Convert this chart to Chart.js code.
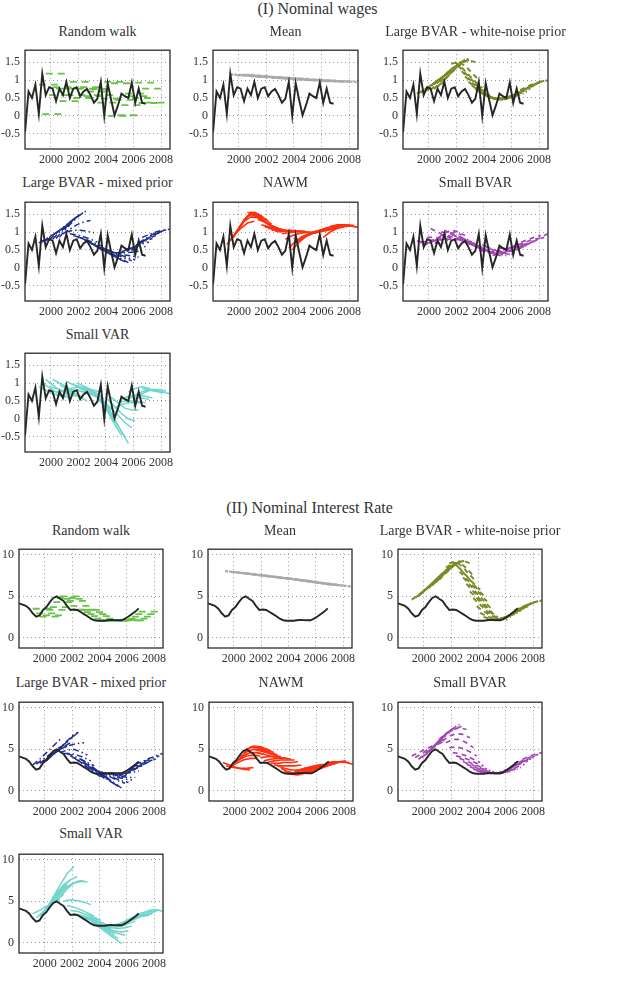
<!DOCTYPE html>
<html>
<head>
<meta charset="utf-8">
<script src="https://cdn.jsdelivr.net/npm/chart.js@4.4.0/dist/chart.umd.min.js"></script>
<style>
  body { margin:0; background:#fff; width:619px; height:994px; position:relative; font-family:"Liberation Serif", "DejaVu Serif", serif; color:#333; }
  .hd { position:absolute; left:0; width:619px; text-align:center; font-size:16px; line-height:18px; }
  .tt { position:absolute; text-align:center; font-size:14px; line-height:16px; white-space:nowrap; }
  canvas { position:absolute; }
</style>
</head>
<body>
<div class="hd" style="top:0;padding-left:8px">(I) Nominal wages</div>
<div class="hd" style="top:499px">(II) Nominal Interest Rate</div>
<script>
// quarterly dates and realised series
const quarters = [1998.125,1998.375,1998.625,1998.875,1999.125,1999.375,1999.625,1999.875,
  2000.125,2000.375,2000.625,2000.875,2001.125,2001.375,2001.625,2001.875,
  2002.125,2002.375,2002.625,2002.875,2003.125,2003.375,2003.625,2003.875,
  2004.125,2004.375,2004.625,2004.875,2005.125,2005.375,2005.625,2005.875,
  2006.125,2006.375,2006.625,2006.875];
const wageActual = [-0.45,0.68,0.5,0.87,0.05,1.18,0.58,0.8,0.76,0.41,0.76,0.58,0.95,0.5,0.76,0.8,
  0.55,0.68,0.75,0.58,0.37,0.48,0.95,0.0,0.91,0.45,0.02,0.3,0.62,0.55,0.5,0.93,0.36,0.76,0.37,0.34];
const rateActual = [4.15,4.0,3.85,3.5,2.95,2.55,2.7,3.35,3.7,4.3,4.8,5.0,4.7,4.45,3.85,3.35,
  3.4,3.35,3.1,2.85,2.6,2.3,2.1,2.05,2.05,2.05,2.1,2.15,2.12,2.1,2.1,2.3,2.55,2.85,3.15,3.55];

const yearTicks = [2000,2002,2004,2006,2008];
const wageTicks = [-0.5,0,0.5,1,1.5];
const rateTicks = [0,5,10];

const titles = ['Random walk','Mean','Large BVAR - white-noise prior','Large BVAR - mixed prior','NAWM','Small BVAR','Small VAR'];

// forecast paths: [start, values...]
const rwWages = [[1999.125,0.87],[1999.375,0.05],[1999.625,1.18],[1999.875,0.58],[2000.125,0.8],[2000.375,0.76],
  [2000.625,0.41],[2000.875,0.76],[2001.125,0.58],[2001.375,0.95],[2001.625,0.5],[2001.875,0.76],[2002.125,0.8],
  [2002.375,0.55],[2002.625,0.68],[2002.875,0.75],[2003.125,0.58],[2003.375,0.37],[2003.625,0.48],[2003.875,0.95],
  [2004.125,0.0],[2004.375,0.91],[2004.625,0.45],[2004.875,0.02],[2005.125,0.3],[2005.375,0.62],[2005.625,0.55],
  [2005.875,0.5],[2006.125,0.93],[2006.375,0.36],[2006.625,0.76],[2006.875,0.37]];
const meanWages = [[1999.375,1.15,1.14],[1999.875,1.13,1.12],[2000.375,1.12,1.11],[2000.875,1.1,1.09],[2001.375,1.09,1.08],
  [2001.875,1.08,1.07],[2002.375,1.06,1.05],[2002.875,1.05,1.04],[2003.375,1.04,1.03],[2003.875,1.02,1.01],
  [2004.375,1.01,1.0],[2004.875,1.0,0.99],[2005.375,0.99,0.98],[2005.875,0.98,0.97],[2006.375,0.97,0.96],[2006.875,0.96,0.95]];
const lbvarWnWages = [
  [1999.125,0.62,0.72,0.85,0.98,1.1],[1999.375,0.65,0.78,0.92,1.06,1.2],[1999.625,0.68,0.83,0.98,1.14,1.3],
  [1999.875,0.7,0.88,1.05,1.22,1.38],[2000.125,0.72,0.92,1.12,1.3,1.45],[2000.375,0.75,0.97,1.18,1.37,1.52],
  [2000.625,0.8,1.02,1.24,1.43,1.57],[2000.875,0.88,1.1,1.3,1.48,1.6],[2001.125,1.0,1.2,1.38,1.52,1.6],
  [2001.375,1.2,1.35,1.48,1.55,1.5],[2001.625,1.45,1.5,1.4,1.2,1.0],[2001.875,1.5,1.35,1.15,0.95,0.78],
  [2002.125,1.4,1.2,1.0,0.82,0.68],[2002.375,1.25,1.05,0.88,0.72,0.6],[2002.625,1.1,0.92,0.77,0.63,0.52],
  [2002.875,0.95,0.8,0.67,0.55,0.47],[2003.125,0.85,0.7,0.58,0.5,0.45],[2003.375,0.75,0.63,0.53,0.47,0.45],
  [2003.625,0.68,0.58,0.5,0.46,0.46],[2003.875,0.62,0.53,0.48,0.47,0.5],[2004.125,0.58,0.5,0.47,0.48,0.52],
  [2004.375,0.52,0.48,0.48,0.51,0.55],[2004.625,0.48,0.48,0.5,0.54,0.58],[2004.875,0.47,0.49,0.53,0.58,0.62],
  [2005.125,0.48,0.52,0.57,0.63,0.68],[2005.375,0.5,0.55,0.62,0.69,0.76],[2005.625,0.5,0.58,0.67,0.76,0.84],
  [2005.875,0.52,0.62,0.72,0.82,0.9],[2006.125,0.55,0.66,0.77,0.87,0.94],[2006.375,0.6,0.72,0.83,0.92,0.98],
  [2006.625,0.72,0.82,0.9,0.96,0.99]];
const lbvarMixWages = [
  [1999.125,0.7,0.8,0.92,1.03,1.12],[1999.375,0.72,0.85,0.98,1.1,1.2],[1999.625,0.75,0.9,1.05,1.2,1.32],
  [1999.875,0.78,0.95,1.12,1.28,1.4],[2000.125,0.8,1.0,1.18,1.35,1.48],[2000.375,0.82,1.05,1.25,1.42,1.55],
  [2000.625,0.85,1.1,1.3,1.48,1.6],[2000.875,0.95,1.08,1.2,1.28,1.32],[2001.125,1.0,1.05,1.05,1.02,0.98],
  [2001.375,0.95,0.92,0.87,0.8,0.72],[2001.625,0.9,0.85,0.78,0.7,0.62],[2001.875,0.88,0.8,0.7,0.6,0.52],
  [2002.125,0.85,0.75,0.65,0.55,0.45],[2002.375,0.8,0.7,0.58,0.48,0.38],[2002.625,0.75,0.65,0.52,0.42,0.32],
  [2002.875,0.7,0.6,0.48,0.37,0.27],[2003.125,0.65,0.55,0.43,0.32,0.22],[2003.375,0.62,0.5,0.38,0.27,0.17],
  [2003.625,0.6,0.48,0.36,0.25,0.15],[2003.875,0.55,0.45,0.35,0.27,0.2],[2004.125,0.5,0.42,0.35,0.28,0.22],
  [2004.375,0.45,0.4,0.36,0.33,0.3],[2004.625,0.42,0.42,0.43,0.45,0.48],[2004.875,0.4,0.45,0.5,0.55,0.6],
  [2005.125,0.45,0.52,0.6,0.67,0.72],[2005.375,0.48,0.58,0.67,0.75,0.82],[2005.625,0.5,0.62,0.73,0.83,0.9],
  [2005.875,0.52,0.66,0.79,0.9,0.98],[2006.125,0.55,0.7,0.84,0.95,1.03],[2006.375,0.7,0.82,0.93,1.01,1.06],
  [2006.625,0.85,0.93,1.0,1.05,1.08]];
const nawmWages = [
  [1999.125,0.65,0.9,1.1,1.25,1.3],[1999.375,0.75,1.05,1.3,1.42,1.4],[1999.625,0.85,1.2,1.45,1.5,1.4],
  [1999.875,1.0,1.35,1.5,1.45,1.3],[2000.125,1.15,1.45,1.55,1.45,1.3],[2000.375,1.3,1.55,1.5,1.35,1.22],
  [2000.625,1.55,1.48,1.35,1.22,1.12],[2000.875,1.5,1.4,1.28,1.17,1.1],[2001.125,1.45,1.35,1.22,1.12,1.07],
  [2001.375,1.35,1.28,1.18,1.1,1.05],[2001.625,1.2,1.15,1.1,1.05,1.03],[2001.875,1.15,1.1,1.07,1.05,1.04],
  [2002.125,1.1,1.08,1.05,1.04,1.04],[2002.375,1.05,1.05,1.04,1.03,1.03],[2002.625,1.02,1.03,1.03,1.03,1.03],
  [2002.875,1.0,1.02,1.02,1.02,1.02],[2003.125,0.95,0.98,1.0,1.0,1.0],[2003.375,0.8,0.9,0.96,0.99,1.0],
  [2003.625,0.55,0.75,0.88,0.95,0.98],[2003.875,0.5,0.72,0.88,0.96,1.0],[2004.125,0.7,0.85,0.95,1.0,1.02],
  [2004.375,0.75,0.88,0.97,1.02,1.04],[2004.625,0.85,0.95,1.0,1.04,1.06],[2004.875,0.9,0.98,1.03,1.06,1.08],
  [2005.125,0.95,1.02,1.06,1.09,1.1],[2005.375,1.0,1.05,1.09,1.12,1.13],[2005.625,1.0,1.08,1.12,1.15,1.15],
  [2005.875,1.05,1.12,1.16,1.18,1.18],[2006.125,0.85,1.0,1.1,1.15,1.17],[2006.375,1.05,1.15,1.2,1.2,1.18],
  [2006.625,1.15,1.2,1.2,1.17,1.13]];
const sbvarWages = [
  [1999.125,0.75,0.72,0.7,0.7,0.7],[1999.375,0.7,0.75,0.78,0.78,0.76],[1999.625,0.62,0.72,0.78,0.8,0.8],
  [1999.875,0.85,0.85,0.83,0.8,0.78],[2000.125,1.1,1.0,0.9,0.83,0.78],[2000.375,0.75,0.88,0.97,0.98,0.92],
  [2000.625,0.82,0.97,1.05,1.0,0.9],[2000.875,1.0,0.98,0.92,0.85,0.78],[2001.125,1.05,0.95,0.85,0.78,0.72],
  [2001.375,0.9,0.85,0.8,0.74,0.68],[2001.625,0.95,0.85,0.75,0.68,0.6],[2001.875,0.82,0.77,0.7,0.63,0.57],
  [2002.125,0.8,0.72,0.65,0.58,0.52],[2002.375,0.85,0.75,0.65,0.56,0.48],[2002.625,0.75,0.65,0.55,0.48,0.42],
  [2002.875,0.68,0.6,0.52,0.45,0.4],[2003.125,0.7,0.6,0.5,0.42,0.38],[2003.375,0.6,0.52,0.45,0.4,0.37],
  [2003.625,0.5,0.45,0.4,0.35,0.35],[2003.875,0.65,0.55,0.45,0.4,0.38],[2004.125,0.6,0.52,0.45,0.4,0.4],
  [2004.375,0.45,0.45,0.45,0.47,0.5],[2004.625,0.35,0.4,0.45,0.5,0.55],[2004.875,0.45,0.5,0.54,0.58,0.6],
  [2005.125,0.55,0.55,0.58,0.6,0.62],[2005.375,0.5,0.55,0.6,0.65,0.7],[2005.625,0.45,0.52,0.6,0.68,0.75],
  [2005.875,0.55,0.63,0.7,0.77,0.82],[2006.125,0.6,0.7,0.78,0.85,0.9],[2006.375,0.5,0.6,0.7,0.78,0.85],
  [2006.625,0.55,0.65,0.75,0.85,0.95]];
const svarWages = [
  [1999.125,0.9,0.8,0.7,0.65,0.6],[1999.375,1.0,0.88,0.75,0.66,0.6],[1999.625,1.1,0.95,0.8,0.7,0.65],
  [1999.875,0.9,0.85,0.78,0.7,0.62],[2000.125,1.1,1.0,0.9,0.75,0.6],[2000.375,0.75,0.78,0.75,0.68,0.6],
  [2000.625,0.95,0.85,0.72,0.6,0.5],[2000.875,0.8,0.82,0.8,0.75,0.7],[2001.125,1.05,0.95,0.85,0.75,0.65],
  [2001.375,0.85,0.88,0.85,0.78,0.7],[2001.625,0.95,0.9,0.85,0.8,0.75],[2001.875,1.0,0.92,0.82,0.7,0.55],
  [2002.125,0.85,0.8,0.72,0.55,0.35],[2002.375,0.75,0.7,0.6,0.45,0.25],[2002.625,0.8,0.7,0.5,0.2,-0.1],
  [2002.875,0.7,0.6,0.4,0.1,-0.2],[2003.125,0.7,0.5,0.2,-0.15,-0.45],[2003.375,0.55,0.4,0.15,-0.2,-0.5],
  [2003.625,0.6,0.35,0.0,-0.35,-0.68],[2003.875,0.45,0.3,0.1,-0.1,-0.25],[2004.125,0.55,0.35,0.15,0.0,-0.05],
  [2004.375,0.6,0.45,0.3,0.25,0.25],[2004.625,0.3,0.4,0.45,0.45,0.45],[2004.875,0.45,0.5,0.5,0.48,0.45],
  [2005.125,0.55,0.6,0.6,0.58,0.55],[2005.375,0.6,0.65,0.66,0.63,0.58],[2005.625,0.75,0.85,0.9,0.85,0.75],
  [2005.875,0.6,0.72,0.8,0.8,0.75],[2006.125,0.55,0.7,0.8,0.78,0.72],[2006.375,0.65,0.75,0.82,0.82,0.78],
  [2006.625,0.85,0.82,0.8,0.75,0.7]];

const rwRates = [[1999.125,3.5],[1999.375,2.95],[1999.625,2.55],[1999.875,2.7],[2000.125,3.35],[2000.375,3.7],
  [2000.625,4.3],[2000.875,4.8],[2001.125,5.0],[2001.375,4.7],[2001.625,4.45],[2001.875,3.85],[2002.125,3.35],
  [2002.375,3.4],[2002.625,3.35],[2002.875,3.1],[2003.125,2.85],[2003.375,2.6],[2003.625,2.3],[2003.875,2.1],
  [2004.125,2.05],[2004.375,2.05],[2004.625,2.05],[2004.875,2.1],[2005.125,2.15],[2005.375,2.12],[2005.625,2.1],
  [2005.875,2.1],[2006.125,2.3],[2006.375,2.55],[2006.625,2.85],[2006.875,3.15]];
const meanRates = [[1999.375,8.05,7.75],[1999.875,7.95,7.65],[2000.375,7.85,7.55],[2000.875,7.75,7.45],[2001.375,7.65,7.35],
  [2001.875,7.55,7.25],[2002.375,7.45,7.15],[2002.875,7.35,7.05],[2003.375,7.25,6.95],[2003.875,7.15,6.85],
  [2004.375,7.05,6.75],[2004.875,6.9,6.6],[2005.375,6.8,6.5],[2005.875,6.7,6.4],[2006.375,6.55,6.3],[2006.875,6.45,6.2]];
const lbvarWnRates = [
  [1999.125,4.6,5.2,5.8,6.5,7.0],[1999.375,4.8,5.5,6.2,6.9,7.5],[1999.625,5.0,5.8,6.6,7.3,7.9],
  [1999.875,5.4,6.2,7.0,7.8,8.4],[2000.125,5.8,6.6,7.4,8.2,8.8],[2000.375,6.0,6.9,7.7,8.5,9.1],
  [2000.625,6.3,7.2,8.0,8.8,9.3],[2000.875,6.7,7.5,8.3,9.0,9.35],[2001.125,7.0,7.8,8.6,9.2,9.3],
  [2001.375,7.6,8.3,8.9,9.3,9.0],[2001.625,8.5,8.9,9.1,8.4,7.5],[2001.875,9.0,9.2,8.5,7.6,6.7],
  [2002.125,9.2,8.4,7.5,6.6,5.8],[2002.375,8.8,7.9,7.0,6.0,5.1],[2002.625,8.0,7.1,6.2,5.3,4.4],
  [2002.875,7.3,6.4,5.4,4.5,3.6],[2003.125,6.5,5.6,4.6,3.7,2.8],[2003.375,5.6,4.8,3.9,3.1,2.5],
  [2003.625,4.8,4.0,3.2,2.6,2.3],[2003.875,3.8,3.2,2.7,2.4,2.2],[2004.125,3.0,2.6,2.3,2.2,2.2],
  [2004.375,2.5,2.3,2.2,2.3,2.5],[2004.625,2.2,2.2,2.3,2.5,2.8],[2004.875,2.15,2.2,2.4,2.7,3.0],
  [2005.125,2.1,2.2,2.5,2.9,3.3],[2005.375,2.2,2.4,2.8,3.2,3.6],[2005.625,2.3,2.6,3.0,3.4,3.8],
  [2005.875,2.4,2.8,3.3,3.7,4.1],[2006.125,2.6,3.0,3.5,3.9,4.3],[2006.375,2.9,3.4,3.8,4.2,4.4],
  [2006.625,3.3,3.7,4.0,4.3,4.5]];
const lbvarMixRates = [
  [1999.125,3.1,3.8,4.6,5.4,6.2],[1999.375,3.2,3.8,4.4,5.0,5.5],[1999.625,3.3,3.9,4.5,5.0,5.4],
  [1999.875,3.5,4.1,4.7,5.3,5.8],[2000.125,3.6,4.4,5.2,6.0,6.8],[2000.375,4.0,4.8,5.5,6.3,7.0],
  [2000.625,4.5,5.2,5.9,6.6,7.3],[2000.875,4.8,5.2,5.5,5.7,5.8],[2001.125,4.6,4.9,5.0,4.7,4.3],
  [2001.375,4.5,4.5,4.3,4.0,3.6],[2001.625,4.5,4.2,3.8,3.4,3.0],[2001.875,4.2,3.8,3.3,2.8,2.3],
  [2002.125,4.0,3.4,2.8,2.2,1.6],[2002.375,3.7,3.2,2.6,2.0,1.5],[2002.625,3.8,3.3,2.7,2.1,1.5],
  [2002.875,3.4,2.9,2.3,1.7,1.1],[2003.125,3.0,2.5,1.9,1.3,0.8],[2003.375,2.8,2.3,1.7,1.1,0.5],
  [2003.625,2.6,2.1,1.5,0.9,0.3],[2003.875,2.4,2.0,1.6,1.2,0.9],[2004.125,2.3,1.9,1.5,1.2,1.0],
  [2004.375,2.2,1.9,1.6,1.4,1.3],[2004.625,2.1,1.9,1.7,1.6,1.6],[2004.875,2.0,2.0,2.1,2.2,2.4],
  [2005.125,1.8,2.0,2.3,2.7,3.0],[2005.375,1.7,2.1,2.5,2.9,3.3],[2005.625,1.6,2.1,2.6,3.1,3.5],
  [2005.875,2.0,2.5,3.0,3.4,3.7],[2006.125,2.5,2.9,3.3,3.6,3.8],[2006.375,2.8,3.2,3.6,3.9,4.2],
  [2006.625,3.2,3.5,3.9,4.2,4.5]];
const nawmRates = [
  [1999.125,3.4,3.1,2.8,2.6,2.5],[1999.375,3.0,2.8,2.7,2.7,2.8],[1999.625,2.8,3.3,3.7,3.9,3.9],
  [1999.875,3.2,3.8,4.2,4.3,4.2],[2000.125,3.5,4.2,4.6,4.6,4.4],[2000.375,4.0,4.7,5.0,4.9,4.6],
  [2000.625,4.6,5.2,5.3,5.0,4.7],[2000.875,5.0,5.4,5.3,5.0,4.6],[2001.125,5.3,5.2,4.9,4.6,4.3],
  [2001.375,5.0,4.8,4.6,4.3,4.1],[2001.625,4.6,4.4,4.2,4.0,3.9],[2001.875,4.0,4.1,4.1,4.0,3.9],
  [2002.125,3.6,3.8,3.9,3.9,3.8],[2002.375,3.4,3.6,3.7,3.7,3.7],[2002.625,3.3,3.3,3.4,3.4,3.5],
  [2002.875,3.1,3.0,3.0,3.0,3.1],[2003.125,3.0,2.7,2.5,2.5,2.6],[2003.375,2.7,2.3,2.1,2.2,2.4],
  [2003.625,2.4,2.0,1.9,2.1,2.4],[2003.875,2.2,2.0,2.1,2.4,2.7],[2004.125,2.1,2.3,2.6,2.8,3.0],
  [2004.375,2.3,2.6,2.8,3.0,3.1],[2004.625,2.4,2.7,2.9,3.1,3.2],[2004.875,2.3,2.6,2.8,3.0,3.1],
  [2005.125,2.2,2.5,2.8,3.0,3.2],[2005.375,2.1,2.5,2.8,3.1,3.3],[2005.625,2.2,2.6,2.9,3.2,3.4],
  [2005.875,2.4,2.8,3.1,3.4,3.5],[2006.125,2.6,3.0,3.3,3.5,3.6],[2006.375,2.9,3.3,3.5,3.5,3.4],
  [2006.625,3.3,3.5,3.5,3.4,3.2]];
const sbvarRates = [
  [1999.125,4.2,4.6,5.0,5.4,5.7],[1999.375,4.0,4.5,5.0,5.5,5.9],[1999.625,3.8,4.5,5.2,5.9,6.5],
  [1999.875,4.0,4.8,5.6,6.4,7.0],[2000.125,4.3,5.2,6.1,6.9,7.5],[2000.375,4.7,5.6,6.5,7.2,7.8],
  [2000.625,5.0,5.9,6.8,7.5,8.0],[2000.875,5.6,6.4,7.1,7.6,7.8],[2001.125,6.2,6.9,7.4,7.6,7.4],
  [2001.375,6.0,6.6,6.9,6.8,6.4],[2001.625,5.8,6.2,6.2,5.8,5.2],[2001.875,5.2,5.3,5.1,4.7,4.2],
  [2002.125,4.6,4.5,4.2,3.8,3.4],[2002.375,4.2,4.0,3.7,3.3,3.0],[2002.625,3.9,3.6,3.2,2.9,2.6],
  [2002.875,3.5,3.2,2.9,2.6,2.4],[2003.125,3.2,2.9,2.6,2.4,2.3],[2003.375,2.9,2.6,2.4,2.2,2.2],
  [2003.625,2.6,2.4,2.2,2.1,2.1],[2003.875,2.4,2.2,2.1,2.1,2.1],[2004.125,2.3,2.2,2.1,2.1,2.2],
  [2004.375,2.2,2.1,2.1,2.2,2.3],[2004.625,2.1,2.1,2.2,2.3,2.4],[2004.875,2.1,2.2,2.3,2.5,2.6],
  [2005.125,2.1,2.2,2.4,2.6,2.8],[2005.375,2.1,2.3,2.6,2.9,3.2],[2005.625,2.2,2.5,2.9,3.3,3.6],
  [2005.875,2.4,2.8,3.2,3.6,3.9],[2006.125,2.6,3.0,3.4,3.8,4.2],[2006.375,2.9,3.3,3.8,4.1,4.4],
  [2006.625,3.3,3.7,4.1,4.4,4.6]];
const svarRates = [
  [1999.125,3.5,3.9,4.4,4.8,5.3],[1999.375,3.0,3.7,4.5,5.2,5.8],[1999.625,3.2,4.2,5.2,6.2,7.0],
  [1999.875,3.6,4.8,6.0,7.0,7.6],[2000.125,4.0,5.5,7.0,8.3,9.2],[2000.375,4.5,5.8,6.8,7.6,8.0],
  [2000.625,4.8,6.0,6.8,7.2,7.4],[2000.875,5.3,6.3,7.0,7.4,7.4],[2001.125,5.5,6.5,7.2,7.5,7.3],
  [2001.375,5.0,5.2,5.1,4.9,4.6],[2001.625,4.5,4.3,4.0,3.6,3.2],[2001.875,3.9,3.8,3.5,3.2,2.9],
  [2002.125,3.5,3.3,3.1,2.9,2.7],[2002.375,3.4,3.2,2.9,2.6,2.3],[2002.625,3.2,3.0,2.7,2.4,2.1],
  [2002.875,3.0,2.7,2.4,2.0,1.6],[2003.125,2.9,2.5,2.0,1.5,1.0],[2003.375,2.6,2.1,1.6,1.0,0.5],
  [2003.625,2.3,1.7,1.1,0.5,-0.1],[2003.875,2.2,1.8,1.4,1.1,0.9],[2004.125,2.1,1.7,1.4,1.3,1.4],
  [2004.375,2.0,1.8,1.7,1.8,2.0],[2004.625,2.0,1.9,2.0,2.3,2.6],[2004.875,2.0,2.1,2.4,2.7,3.0],
  [2005.125,2.1,2.4,2.8,3.2,3.5],[2005.375,2.1,2.5,2.9,3.2,3.4],[2005.625,2.2,2.6,3.0,3.2,3.3],
  [2005.875,2.4,2.8,3.1,3.3,3.5],[2006.125,2.6,3.0,3.3,3.5,3.8],[2006.375,2.9,3.3,3.6,3.8,3.9],
  [2006.625,3.3,3.6,3.9,4.0,3.8]];

// line styles per model
const styles = [
  {color:'#66c447', dash:[7,5], width:1.8, span:1.75},
  {color:'#a9a9a9', dash:[3,1], width:2.2, span:1.75},
  {color:'#7b8a26', dash:[5,4], width:1.9, span:2},
  {color:'#1f2d8f', dash:[6,3,1.5,3], width:1.5, span:2},
  {color:'#ff3010', dash:[], width:1.6, span:2},
  {color:'#a347b5', dash:[5,4], width:1.7, span:2},
  {color:'#6fd6cb', dash:[], width:1.5, span:2}
];

const wagePaths = [rwWages, meanWages, lbvarWnWages, lbvarMixWages, nawmWages, sbvarWages, svarWages];
const ratePaths = [rwRates, meanRates, lbvarWnRates, lbvarMixRates, nawmRates, sbvarRates, svarRates];

const wageBoxes = [[25,44],[213,44],[403,44],[25,196],[213,196],[403,196],[25,347]];
const rateBoxes = [[19,543],[208,543],[398,543],[19,696],[209,696],[398,696],[19,848]];
const wageTitleY = [32,32,32,183,183,183,335];
const rateTitleY = [531,531,531,683,683,683,834];

const frame = {
  id:'frame',
  afterDraw(c){
    const a = c.chartArea, g = c.ctx;
    g.save();
    g.strokeStyle = '#2b2b2b';
    g.lineWidth = 1.3;
    g.strokeRect(a.left, a.top, a.right - a.left, a.bottom - a.top);
    g.restore();
  }
};

function pathPoints(p, span){
  const x0 = p[0], v = p.slice(1);
  if (v.length === 1) return [{x:x0, y:v[0]}, {x:x0 + span, y:v[0]}];
  const st = span / (v.length - 1);
  return v.map((y, k) => ({x: x0 + k * st, y: y}));
}

const LEFT = 32, TOP = 6, RIGHT = 16, BOTTOM = 22, BH = 105;
const tickFont = {family:"'Liberation Serif', 'DejaVu Serif', serif", size:12};

function panel(box, bw, titleY, title, paths, st, actual, yMin, yMax, yTicks){
  const t = document.createElement('div');
  t.className = 'tt';
  t.style.left = (box[0] - 40) + 'px';
  t.style.width = (bw + 80) + 'px';
  t.style.top = (titleY - 8) + 'px';
  t.textContent = title;
  document.body.appendChild(t);

  const cv = document.createElement('canvas');
  cv.width = bw + LEFT + RIGHT;
  cv.height = BH + TOP + BOTTOM;
  cv.style.left = (box[0] - LEFT) + 'px';
  cv.style.top = (box[1] - TOP) + 'px';
  document.body.appendChild(cv);

  const datasets = [{
    data: quarters.map((q, i) => ({x:q, y:actual[i]})),
    borderColor:'#262626', borderWidth:1.9, pointRadius:0, tension:0, clip:0
  }];
  paths.forEach(p => datasets.push({
    data: pathPoints(p, st.span),
    borderColor: st.color, borderWidth: st.width, borderDash: st.dash,
    pointRadius:0, tension:0, clip:0
  }));

  new Chart(cv, {
    type:'line',
    data:{datasets},
    options:{
      responsive:false, animation:false, events:[],
      layout:{padding:{left:0, top:TOP, right:RIGHT, bottom:0}},
      plugins:{legend:{display:false}, tooltip:{enabled:false}},
      scales:{
        x:{
          type:'linear', min:1998.12, max:2008.65,
          afterBuildTicks: s => { s.ticks = yearTicks.map(v => ({value:v})); },
          afterFit: s => { s.height = BOTTOM; },
          ticks:{autoSkip:false, maxRotation:0, color:'#333', font:tickFont, padding:4, callback: v => String(v)},
          grid:{color:'#9a9a9a', drawTicks:false, lineWidth:1},
          border:{display:false, dash:[1,3]}
        },
        y:{
          min:yMin, max:yMax,
          afterBuildTicks: s => { s.ticks = yTicks.map(v => ({value:v})); },
          afterFit: s => { s.width = LEFT; },
          ticks:{color:'#333', font:tickFont, padding:5, callback: v => String(v)},
          grid:{color:'#9a9a9a', drawTicks:false, lineWidth:1},
          border:{display:false, dash:[1,3]}
        }
      }
    },
    plugins:[frame]
  });
}

for (let i = 0; i < 7; i++) {
  panel(wageBoxes[i], 145, wageTitleY[i], titles[i], wagePaths[i], styles[i], wageActual, -0.92, 1.83, wageTicks);
  panel(rateBoxes[i], 144, rateTitleY[i], titles[i], ratePaths[i], styles[i], rateActual, -1.25, 10.7, rateTicks);
}
</script>
</body>
</html>
